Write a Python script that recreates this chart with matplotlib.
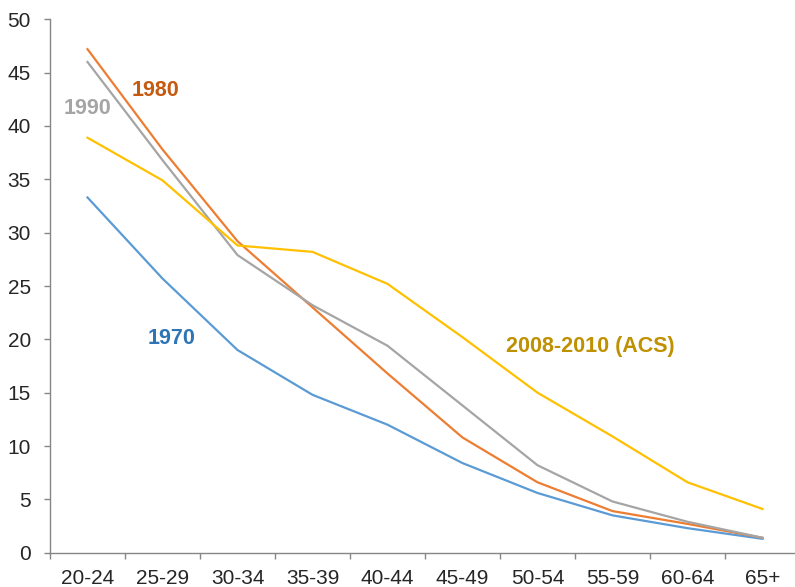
import matplotlib
matplotlib.use("Agg")
import matplotlib.pyplot as plt
import numpy as np

plt.rcParams['font.family'] = ['Liberation Sans', 'DejaVu Sans']

categories = ["20-24", "25-29", "30-34", "35-39", "40-44", "45-49", "50-54", "55-59", "60-64", "65+"]
y1970 = [33.3, 25.7, 19.0, 14.8, 12.0, 8.4, 5.6, 3.5, 2.3, 1.3]
y1980 = [47.2, 37.8, 29.2, 23.0, 16.8, 10.8, 6.6, 3.9, 2.7, 1.4]
y1990 = [46.0, 36.8, 27.9, 23.2, 19.4, 13.8, 8.2, 4.8, 2.9, 1.4]
yacs = [38.9, 34.9, 28.8, 28.2, 25.2, 20.2, 15.0, 10.9, 6.6, 4.1]
yticks = [0, 5, 10, 15, 20, 25, 30, 35, 40, 45, 50]

fig = plt.figure(figsize=(7.95, 5.87), dpi=100)
ax = fig.add_axes([50/795, (587-552.7)/587, 750/795, (552.7-19.3)/587])

x = np.arange(len(categories))
ax.plot(x, y1970, color='#5B9BD5', lw=1.6)
ax.plot(x, y1980, color='#ED7D31', lw=1.6)
ax.plot(x, y1990, color='#A5A5A5', lw=1.6)
ax.plot(x, yacs, color='#FFC000', lw=1.6)

ax.set_xlim(-0.5, len(categories) - 0.5)
ax.set_ylim(0, 50)
ax.set_yticks(yticks)
ax.set_xticks(x)
ax.set_xticklabels(categories)
ax.set_xticks(np.arange(-0.5, len(categories), 1.0), minor=True)

for s in ['top', 'right']:
    ax.spines[s].set_visible(False)
for s in ['left', 'bottom']:
    ax.spines[s].set_color('#868686')
    ax.spines[s].set_linewidth(1.0)

ax.tick_params(axis='x', which='major', length=0, pad=11.5, labelsize=15, labelcolor='#262626')
ax.tick_params(axis='x', which='minor', length=4, color='#868686', width=1.0)
ax.tick_params(axis='y', which='major', length=4.3, color='#868686', width=1.0, pad=9.5,
               labelsize=15, labelcolor='#262626')

lab = dict(fontsize=15.5, fontweight='bold', ha='center', va='center')
ax.text(0.91, 43.3, "1980", color='#C55A11', **lab)
ax.text(0.0, 41.6, "1990", color='#A5A5A5', **lab)
ax.text(1.12, 20.1, "1970", color='#2E75B6', **lab)
ax.text(6.7, 19.3, "2008-2010 (ACS)", color='#BF9000', **lab)

fig.savefig("out.png", dpi=100)
